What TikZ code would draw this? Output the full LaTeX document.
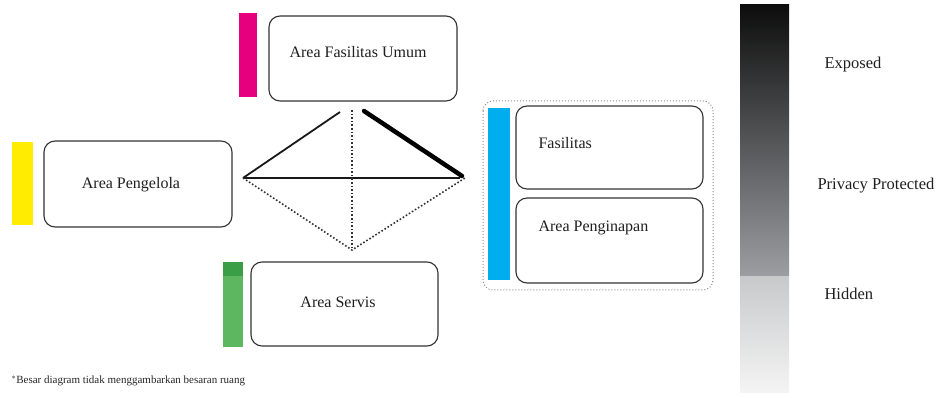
\documentclass[tikz,border=0pt]{standalone}
\usepackage{fontspec}
\setmainfont{Liberation Serif}
\begin{document}
\begin{tikzpicture}[x=1pt,y=-1pt,
  roombox/.style={draw=black!80,line width=1.1pt,rounded corners=11pt,fill=white,inner sep=0pt},
  roomlabel/.style={font=\fontsize{16}{18}\selectfont,text=black!88},
  legendlabel/.style={font=\fontsize{16.5}{18}\selectfont,text=black!88,anchor=west},
  thinline/.style={line width=1.8pt,black!90},
  thickline/.style={line width=4.5pt,black,line cap=round},
  dotline/.style={line width=1.6pt,black!80,dotted}]
\useasboundingbox (0,0) rectangle (943,398);
\definecolor{pinkbar}{HTML}{E6007E}
\definecolor{yellowbar}{HTML}{FFEC00}
\definecolor{greenbar}{HTML}{5DB760}
\definecolor{greentop}{HTML}{3A9E47}
\definecolor{bluebar}{HTML}{00AEEF}

% colour bars
\fill[pinkbar] (239,13) rectangle (257,97);
\fill[yellowbar] (12,142) rectangle (33,225);
\fill[greenbar] (223,262) rectangle (243,347);
\fill[greentop] (223,262) rectangle (243,276);

% boxes
\draw[roombox] (269,16) rectangle (457,101);
\node[roomlabel] (umum) at (358,52) {Area Fasilitas Umum};
\draw[roombox] (44,141) rectangle (232,227);
\node[roomlabel] (pengelola) at (131,185) {Area Pengelola};
\draw[roombox] (251,262) rectangle (438,346);
\node[roomlabel] (servis) at (338,302) {Area Servis};

% right group
\draw[black!45,line width=1pt,dotted,rounded corners=10pt] (483,101) rectangle (713,290);
\fill[bluebar] (488,108) rectangle (510,280);
\draw[roombox] (516,106) rectangle (703,189);
\node[roomlabel,anchor=west] (fasilitas) at (535,143) {Fasilitas};
\draw[roombox] (516,198) rectangle (703,283);
\node[roomlabel,anchor=west] (penginapan) at (535,228) {Area Penginapan};

% relation diagram
\coordinate (apexL) at (340,112);
\coordinate (apexR) at (364,111);
\coordinate (top) at (352,110);
\coordinate (left) at (243,178);
\coordinate (right) at (462,176);
\coordinate (rightm) at (460,178);
\coordinate (rightd) at (465,178);
\coordinate (bottom) at (352,250);
\draw[thinline] (left) -- (apexL);
\draw[thickline] (apexR) -- (right);
\draw[thinline] (left) -- (rightm);
\draw[dotline] (top) -- (bottom);
\draw[dotline] (left) -- (bottom) -- (rightd);

% gradient legend
\shade[top color=black!95, bottom color={rgb,255:red,156;green,158;blue,162}] (740,5) rectangle (789,277);
\shade[top color={rgb,255:red,200;green,201;blue,203}, bottom color={rgb,255:red,244;green,244;blue,244}] (740,277) rectangle (789,392);
\node[legendlabel] (exposed) at (821,65) {Exposed};
\node[legendlabel] (privacy) at (814,186) {Privacy Protected};
\node[legendlabel] (hidden) at (821,294) {Hidden};

% footnote
\node[anchor=west,font=\fontsize{11}{13}\selectfont,text=black!85] (note) at (8,381) {$^{*}$Besar diagram tidak menggambarkan besaran ruang};
\end{tikzpicture}
\end{document}
